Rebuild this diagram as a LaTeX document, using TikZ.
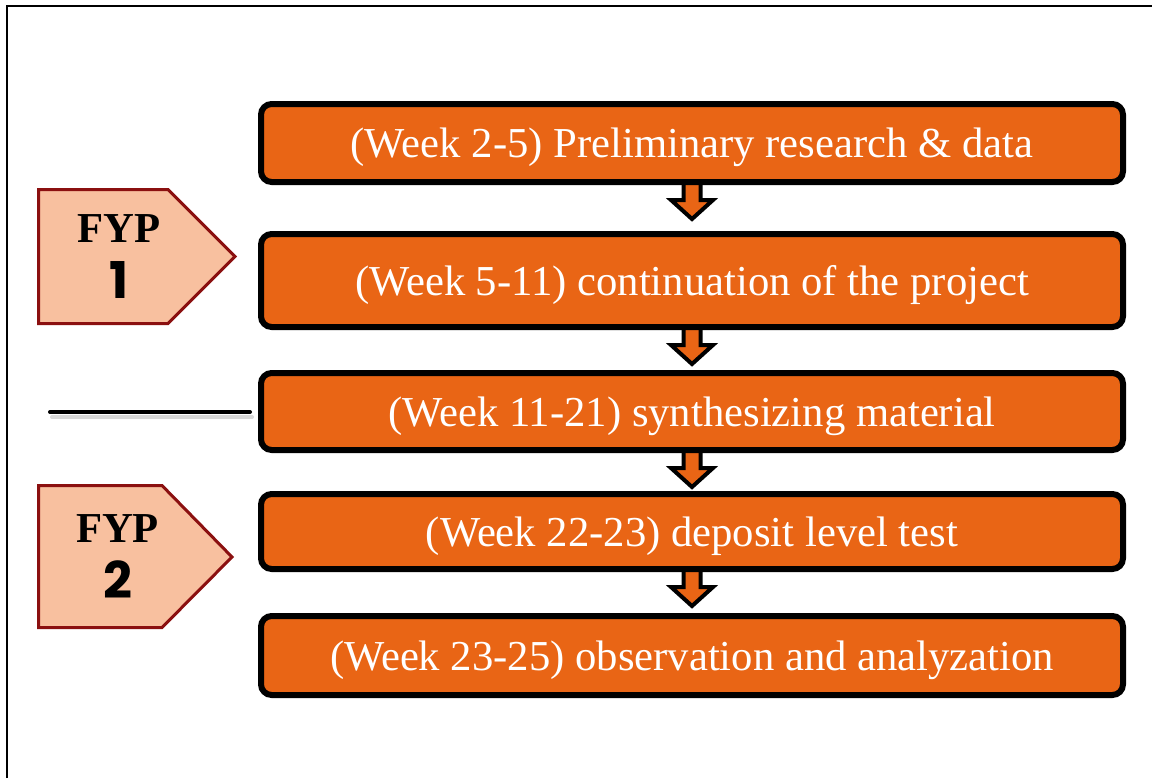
\documentclass[tikz,border=0pt]{standalone}
\usepackage{fontspec}
\setmainfont{Liberation Serif}
\newfontfamily\digitfont{Poppins}
\definecolor{StepOrange}{HTML}{E96515}
\definecolor{PhasePeach}{HTML}{F8C09F}
\definecolor{PhaseRed}{HTML}{8B1010}
\usetikzlibrary{positioning, calc, backgrounds}

\begin{document}
\begin{tikzpicture}[
  x=0.75pt, y=-0.75pt,
  stepbox/.style={draw=black, line width=4.5pt, rounded corners=8pt,
    fill=StepOrange, minimum width=646.5pt, inner sep=0pt, text depth=0pt,
    text=white, font=\fontsize{32}{36}\selectfont},
  phase/.style={draw=PhaseRed, line width=2.25pt, fill=PhasePeach},
  phaselbl/.style={align=center, inner sep=0pt, font=\fontsize{32}{42}\selectfont\bfseries},
  blockarr/.style={draw=black, line width=3pt, fill=StepOrange,
    to path={($(\tikztostart)+(-8.5,-8)$) -- ($(\tikztostart)+(-8.5,15)$)
      -- ($(\tikztostart)+(-21,15)$) -- ($(\tikztostart)+(0,34)$)
      -- ($(\tikztostart)+(21,15)$) -- ($(\tikztostart)+(8.5,15)$)
      -- ($(\tikztostart)+(8.5,-8)$) -- cycle}},
]
  \useasboundingbox (0,0) rectangle (1152,778);
  \draw[line width=1.5pt] (7,778) -- (7,5.5) -- (1152,5.5);

  \node[stepbox, minimum height=58.5pt] (w2) at (692,143) {(Week 2-5) Preliminary research \& data};
  \node[stepbox, minimum height=69.75pt] (w5) at (692,280.5) {(Week 5-11) continuation of the project};
  \node[stepbox, minimum height=57.75pt] (w11) at (692,411.5) {(Week 11-21) synthesizing material};
  \node[stepbox, minimum height=56.25pt] (w22) at (692,531.5) {(Week 22-23) deposit level test};
  \node[stepbox, minimum height=59.25pt] (w23) at (692,655.5) {(Week 23-25) observation and analyzation};

  \begin{scope}[on background layer]
    \draw[blockarr] (w2.south) to (w5.north);
    \draw[blockarr] (w5.south) to (w11.north);
    \draw[blockarr] (w11.south) to (w22.north);
    \draw[blockarr] (w22.south) to (w23.north);
  \end{scope}

  % Phases
  \draw[phase] (38.5,189.5) -- (168,189.5) -- (235,256.5) -- (168,323.5) -- (38.5,323.5) -- cycle;
  \draw[phase] (38.5,485.5) -- (162,485.5) -- (232,557) -- (162,627.5) -- (38.5,627.5) -- cycle;
  \node[phaselbl] (fyp1) at (119,256.5) {FYP\\{\digitfont\fontsize{38}{42}\selectfont 1}};
  \node[phaselbl] (fyp2) at (117.5,556.5) {FYP\\{\digitfont\fontsize{38}{42}\selectfont 2}};

  % Split line
  \coordinate (cut) at (50,412);
  \draw[black!25, line width=3pt, line cap=round, opacity=.6] ($(cut)+(2,5)$) -- ($(w11.west)+(-6,5.5)$);
  \draw[line width=3pt, line cap=round] (cut) -- ($(w11.west)+(-8,0.5)$);
\end{tikzpicture}
\end{document}
